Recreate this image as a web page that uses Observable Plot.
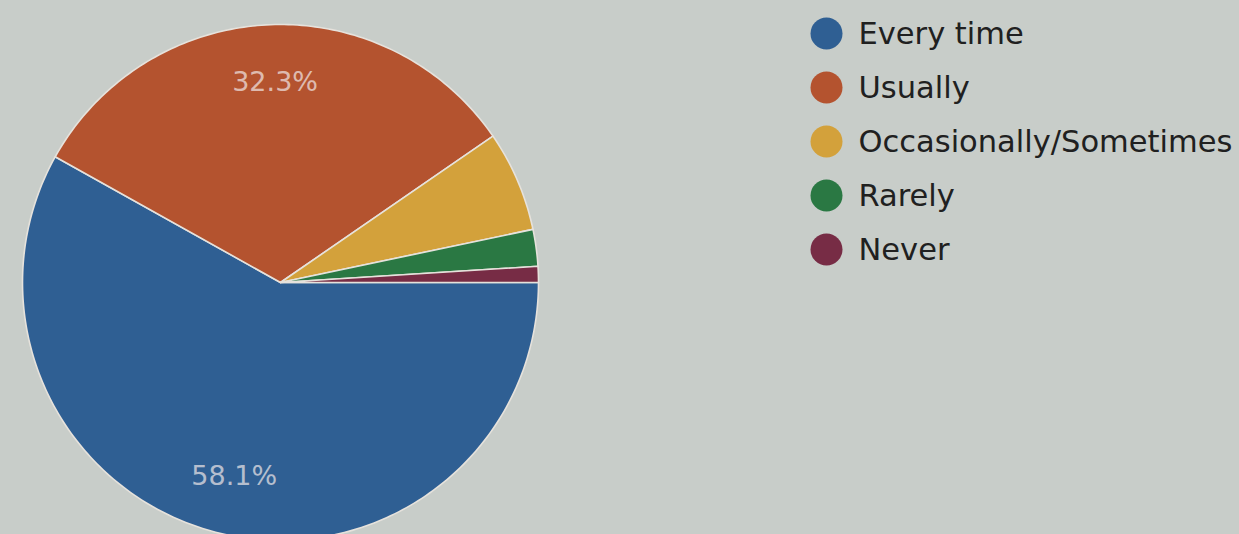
<!DOCTYPE html>
<html>
<head>
<meta charset="utf-8">
<script src="https://cdn.jsdelivr.net/npm/d3@7"></script>
<script src="https://cdn.jsdelivr.net/npm/@observablehq/plot@0.6"></script>
<style>
  html, body { margin: 0; padding: 0; background: #c8cdc9; overflow: hidden; }
  #chart svg { display: block; }
</style>
</head>
<body>
<div id="chart"></div>
<script>
// ---- data ----
const categories = ["Every time", "Usually", "Occasionally/Sometimes", "Rarely", "Never"];
const percents = [58.1, 32.3, 6.3, 2.3, 1.0];
const colors = ["#2f5f93", "#b4532f", "#d3a13b", "#2a7843", "#772c45"];
const labelMin = 10; // only label slices above this percent

// ---- layout ----
const W = 1239, H = 534;
const CX = 280, CY = 282, R = 258;
const LEG_X = 826, LEG_Y0 = 33, LEG_DY = 54;

// slice polygons, clockwise from 3 o'clock
const total = d3.sum(percents);
const pts = [];
const labels = [];
let acc = 0;
categories.forEach((c, i) => {
  const a0 = acc / total * 2 * Math.PI;
  acc += percents[i];
  const a1 = acc / total * 2 * Math.PI;
  pts.push({cat: c, x: 0, y: 0});
  const n = Math.max(4, Math.ceil((a1 - a0) / (Math.PI / 180)));
  for (let k = 0; k <= n; k++) {
    const a = a0 + (a1 - a0) * k / n;
    pts.push({cat: c, x: Math.cos(a), y: -Math.sin(a)});
  }
  if (percents[i] >= labelMin) {
    const am = (a0 + a1) / 2;
    labels.push({cat: c, x: 0.775 * Math.cos(am), y: -0.775 * Math.sin(am), text: percents[i].toFixed(1) + "%"});
  }
});

const toX = px => (px - CX) / R;
const toY = py => (CY - py) / R;
const legend = categories.map((c, i) => ({cat: c, x: toX(LEG_X), tx: toX(LEG_X + 32), y: toY(LEG_Y0 + i * LEG_DY)}));

const plot = Plot.plot({
  width: W,
  height: H,
  margin: 0,
  style: {background: "#c8cdc9", fontFamily: "DejaVu Sans, sans-serif", overflow: "hidden"},
  x: {domain: [-1, 1], range: [CX - R, CX + R], axis: null},
  y: {domain: [-1, 1], range: [CY + R, CY - R], axis: null},
  color: {domain: categories, range: colors},
  marks: [
    Plot.line(pts, {x: "x", y: "y", z: "cat", fill: "cat", stroke: "#e6e2dc", strokeWidth: 1.6, curve: "linear-closed"}),
    Plot.text(labels, {x: "x", y: "y", text: "text", fill: "#f2eaea", fillOpacity: 0.7, fontSize: 27, dx: 4}),
    Plot.dot(legend, {x: "x", y: "y", r: 16, fill: "cat", stroke: "none"}),
    Plot.text(legend, {x: "tx", y: "y", text: "cat", textAnchor: "start", fill: "#202020", fontSize: 30.5, dy: 1})
  ]
});
document.getElementById("chart").appendChild(plot);
</script>
</body>
</html>
